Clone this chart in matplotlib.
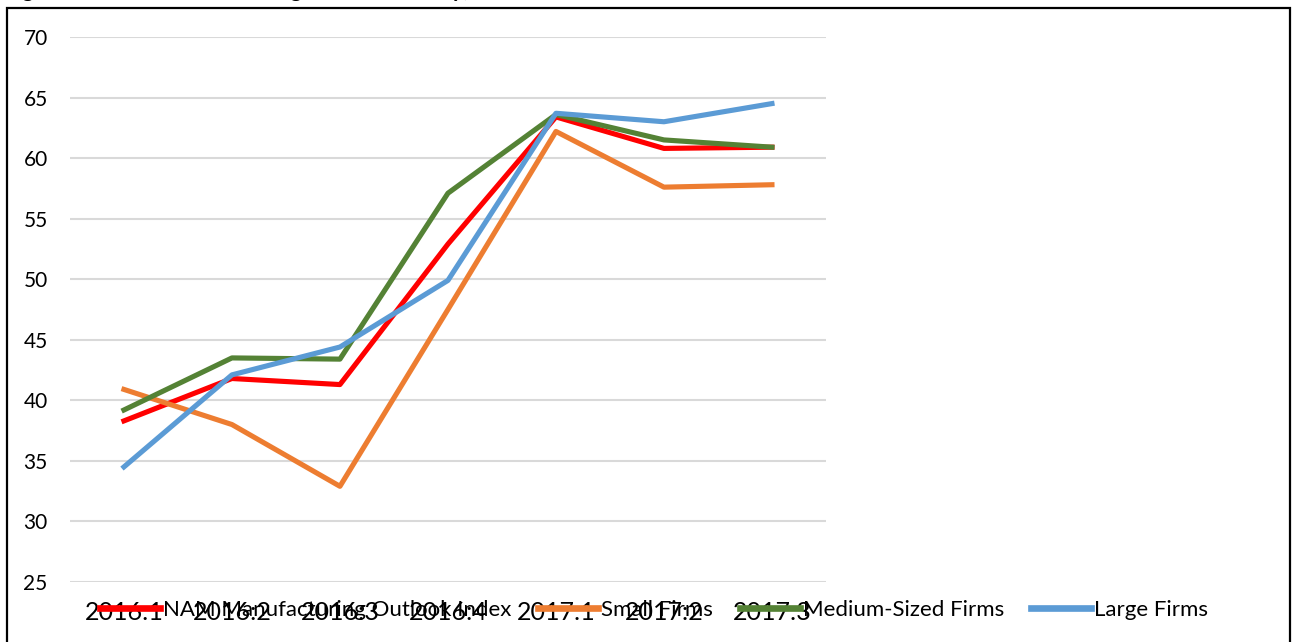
import matplotlib.pyplot as plt
from matplotlib.patches import Rectangle

quarters = ['2016:1', '2016:2', '2016:3', '2016:4', '2017:1', '2017:2', '2017:3']
nam_index = [38.3, 41.8, 41.3, 52.9, 63.4, 60.8, 60.9]
small_firms = [40.9, 38.0, 32.9, 47.5, 62.2, 57.6, 57.8]
medium_firms = [39.2, 43.5, 43.4, 57.1, 63.6, 61.5, 60.9]
large_firms = [34.5, 42.1, 44.4, 49.9, 63.7, 63.0, 64.5]

plt.rcParams['font.family'] = ['Lato', 'DejaVu Sans']

fig = plt.figure(figsize=(12.95, 6.42), dpi=100)
ax = fig.add_axes([0.054, 0.0935, 0.5838, 0.8489])

x = range(len(quarters))
ax.plot(x, nam_index, color='#FF0000', lw=3.7, label='NAM Manufacturing Outlook Index')
ax.plot(x, small_firms, color='#ED7D31', lw=3.7, label='Small Firms')
ax.plot(x, medium_firms, color='#548235', lw=3.7, label='Medium-Sized Firms')
ax.plot(x, large_firms, color='#5B9BD5', lw=3.7, label='Large Firms')

ax.set_xlim(-0.5, len(quarters) - 0.5)
ax.set_ylim(25, 70)
ax.set_yticks(range(25, 71, 5))
ax.set_xticks(list(x))
ax.set_xticklabels(quarters, fontsize=18)
ax.tick_params(axis='y', labelsize=15, length=0, pad=16)
ax.tick_params(axis='x', length=0, pad=14)
ax.grid(axis='y', color='#D9D9D9', lw=1.5)
ax.set_axisbelow(True)
for s in ax.spines.values():
    s.set_visible(False)

leg = fig.legend(loc='center', bbox_to_anchor=(0.505, 0.0495), ncol=4, frameon=False,
                 fontsize=16, handlelength=2.7, handletextpad=0.15, columnspacing=1.2)
for h in leg.legend_handles:
    h.set_linewidth(4.8)

# border of the chart box
fig.patches.append(Rectangle((0.0054, -0.02), 0.9907, 1.0075, transform=fig.transFigure,
                             fill=False, edgecolor='black', lw=1.6))

# title, cut off at the top in the original
fig.text(0.003, 1.0 + 3 / 642, 'Figure 1: NAM Manufacturing Outlook Survey, 2016-2017',
         fontsize=16, fontweight='bold', va='baseline', ha='left')

fig.savefig('out.png', dpi=100)
